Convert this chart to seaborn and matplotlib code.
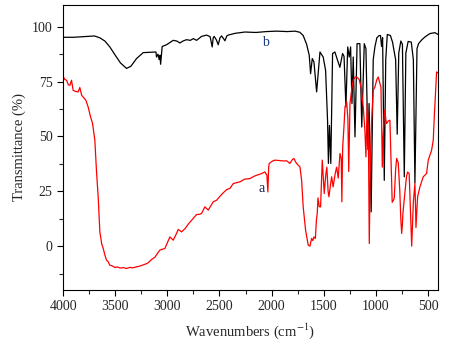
import numpy as np
import pandas as pd
import matplotlib
matplotlib.use("Agg")
import matplotlib.pyplot as plt
from matplotlib.ticker import MultipleLocator
import seaborn as sns

# --------------------------
# FTIR spectra (wavenumber in cm-1, transmittance in %)
# --------------------------
# curve a (red)
a_wn = [4000, 3985, 3967, 3950, 3936, 3920, 3904, 3880, 3856, 3840, 3823, 3800, 3782, 3760,
        3737, 3718, 3696, 3680, 3664, 3648, 3630, 3616, 3600, 3584, 3570, 3552, 3530, 3504,
        3480, 3450, 3420, 3392, 3360, 3330, 3300, 3264, 3230, 3200, 3184, 3150, 3120, 3090,
        3072, 3040, 3024, 2976, 2944, 2910, 2896, 2864, 2830, 2800, 2768, 2720, 2690, 2672,
        2640, 2608, 2560, 2528, 2490, 2464, 2430, 2400, 2368, 2330, 2304, 2260, 2208, 2170,
        2144, 2100, 2064, 2045, 2036, 2028, 2023, 1990, 1968, 1920, 1880, 1856, 1824, 1800,
        1786, 1765, 1745, 1728, 1712, 1697, 1674, 1649, 1632, 1616, 1604, 1594, 1580, 1570,
        1562, 1555, 1543, 1530, 1514, 1495, 1485, 1479, 1470, 1458, 1450, 1435, 1424, 1410,
        1390, 1376, 1361, 1344, 1332, 1326, 1318, 1305, 1296, 1280, 1268, 1260, 1248, 1230,
        1217, 1200, 1184, 1160, 1140, 1120, 1105, 1095, 1083, 1072, 1063, 1052, 1040, 1025,
        1009, 990, 977, 960, 951, 944, 938, 930, 920, 913, 905, 897, 881, 865, 855, 843, 830,
        823, 810, 800, 785, 770, 760, 752, 745, 740, 720, 705, 695, 680, 670, 656, 648, 640,
        625, 620, 615, 608, 599, 577, 545, 513, 497, 465, 449, 440, 433, 425, 417, 404]
a_t = [77.4, 76, 75.6, 73.5, 73.3, 75.6, 71, 70.5, 70.3, 72.3, 68.8, 67.5, 66.5, 63.4,
       58.9, 55.9, 48.3, 34, 22.5, 6.5, 1, -1, -4, -6.4, -7, -8.7, -9, -9.7,
       -9.5, -10, -9.8, -10.2, -9.7, -9.9, -9.5, -9.1, -8.5, -8, -7.6, -6, -5.1, -3,
       -1.8, -1.3, -1.1, 4.2, 2.7, 6, 7.6, 6.5, 8, 10, 11.8, 14.4, 14.5, 14.9,
       17.9, 16.4, 20.2, 20.9, 23, 24.3, 25.8, 26.3, 28.5, 29, 29.3, 30.5, 30.8, 31.8,
       32.3, 33, 33.8, 32.3, 24.7, 36, 37.7, 38.8, 39.2, 39, 38.8, 38.9, 37.7, 39.5,
       39.9, 38, 36.9, 36.1, 30, 17.9, 7.3, 0.5, 0, 3.5, 2.5, 4.2, 3.5, 12,
       15, 22, 18, 17.9, 39.2, 24, 30, 33, 36, 25, 22.5, 28, 31.6, 27,
       33, 36, 31, 42.2, 40, 20.2, 45, 55, 63.4, 65.7, 58, 34, 65, 72,
       75.6, 77, 77.1, 76, 72, 63, 52.8, 40.7, 65, 55, 1.2, 40, 57.4, 71,
       72.5, 76, 77.1, 74, 72.5, 55, 36, 50, 60, 62, 58, 55.9, 57, 57.4, 40, 20, 21,
       22, 35, 40, 38, 25, 12, 5.8, 10, 15, 25, 32, 33.8, 33, 20, 0, 10, 20,
       28.5, 20, 8.5, 15, 22.5, 27, 31.6, 33.1, 39.2, 43.7, 48.3, 58, 64.2, 72, 79.4, 79]

# curve b (black)
b_wn = [4000, 3900, 3800, 3700, 3650, 3600, 3552, 3500, 3450, 3392, 3350, 3296, 3232, 3110,
        3104, 3090, 3079, 3070, 3065, 3050, 3008, 2944, 2910, 2880, 2850, 2816, 2780, 2751,
        2720, 2672, 2624, 2590, 2570, 2560, 2551, 2530, 2512, 2495, 2480, 2460, 2448, 2430,
        2416, 2350, 2256, 2150, 2050, 1950, 1850, 1776, 1730, 1697, 1664, 1639, 1626, 1610,
        1594, 1568, 1536, 1505, 1482, 1463, 1455, 1445, 1432, 1415, 1393, 1345, 1319, 1305,
        1287, 1270, 1255, 1242, 1229, 1217, 1200, 1180, 1153, 1135, 1111, 1095, 1075, 1065,
        1045, 1025, 1009, 990, 967, 955, 945, 935, 919, 905, 890, 860, 840, 810, 795, 780,
        760, 745, 727, 712, 690, 660, 640, 625, 605, 590, 560, 530, 481, 433, 404]
b_t = [95.2, 95.2, 95.5, 95.8, 95, 93.5, 90.8, 87, 83.5, 81, 82, 85.5, 88.2, 88.5,
       86.2, 87.5, 85, 87, 82.9, 91, 91.8, 93.8, 93.5, 92.6, 93.5, 94.1, 93.8, 94.6,
       93.8, 95.6, 96.2, 95.5, 90.8, 95, 95.6, 94, 91.8, 95, 95.8, 94.5, 93.6, 95.8,
       96.2, 97, 97.6, 97.4, 97.8, 98, 97.8, 98, 97.5, 96, 92, 87, 78.6, 85.5,
       84, 70.3, 88.5, 86.2, 80.1, 57, 37.7, 55, 37.7, 87.8, 88.5, 81.5, 87.8, 86.5,
       63.4, 90.8, 86.2, 90.8, 65, 86.2, 49.8, 92.3, 92.3, 54.3, 92.3, 90, 44, 65,
       15.6, 85, 90.8, 95, 96, 96, 91, 95, 30, 85, 96.5, 96, 93, 85, 51, 88,
       93.5, 92, 31.6, 88, 93.3, 93, 85, 28.8, 90, 92.3, 94, 95.3, 96.9, 97.3, 96.5]

x_ticks = [4000, 3500, 3000, 2500, 2000, 1500, 1000, 500]
y_ticks = [0, 25, 50, 75, 100]

df_a = pd.DataFrame({"wn": a_wn, "T": a_t})
df_b = pd.DataFrame({"wn": b_wn, "T": b_t})

sns.set_style("ticks")
plt.rcParams['font.family'] = ['Liberation Serif', 'DejaVu Serif']
plt.rcParams['mathtext.fontset'] = 'stix'

fig = plt.figure(figsize=(4.61, 3.44), dpi=100)
ax = fig.add_axes([0.137, 0.157, 0.813, 0.829])

sns.lineplot(data=df_b, x="wn", y="T", color="black", lw=0.9, estimator=None, ax=ax)
sns.lineplot(data=df_a, x="wn", y="T", color="red", lw=0.9, estimator=None, ax=ax)

ax.text(2093, 26.4, "a", color="#1c2452", fontsize=10, ha="center", va="center")
ax.text(2058, 93, "b", color="#1c3a80", fontsize=10, ha="center", va="center")

ax.set_xlim(4000, 404)
ax.set_ylim(-20, 110)
ax.set_xticks(x_ticks)
ax.set_yticks(y_ticks)
ax.xaxis.set_minor_locator(MultipleLocator(250))
ax.yaxis.set_minor_locator(MultipleLocator(12.5))
ax.tick_params(which="major", length=4, width=0.8, labelsize=10, direction="out",
               top=False, right=False, color="black")
ax.tick_params(which="minor", length=3, width=0.8, direction="out", top=False, right=False)

for s in ax.spines.values():
    s.set_visible(True)
    s.set_color("black")
    s.set_linewidth(0.8)

ax.set_xlabel("Wavenumbers (cm$^{-1}$)", fontsize=10.5, labelpad=6)
ax.set_ylabel("Transmittance (%)", fontsize=10.5, labelpad=4)

fig.savefig("out.png", dpi=100)
